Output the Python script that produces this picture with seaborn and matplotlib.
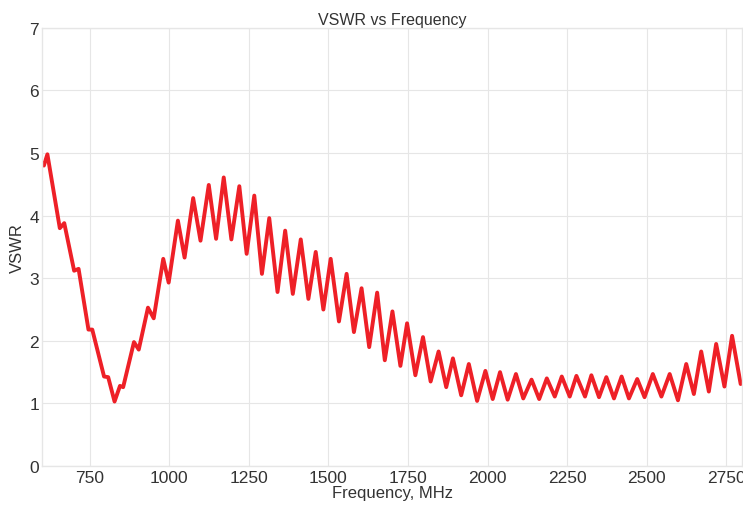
import seaborn as sns
import matplotlib.pyplot as plt
import pandas as pd

# values (peaks / troughs of the VSWR trace)
freq_mhz = [600, 606, 617, 656, 670, 701, 715, 746, 758, 795, 808, 828, 845, 855,
            889, 904, 933, 951, 981, 998, 1027, 1048, 1075, 1098, 1124, 1147, 1171,
            1195, 1220, 1243, 1267, 1291, 1314, 1340, 1364, 1388, 1413, 1437, 1460,
            1484, 1507, 1533, 1557, 1580, 1604, 1628, 1653, 1677, 1701, 1726, 1747,
            1773, 1797, 1821, 1846, 1870, 1891, 1917, 1941, 1967, 1993, 2016, 2039,
            2063, 2089, 2112, 2138, 2162, 2186, 2211, 2233, 2258, 2279, 2306, 2326,
            2350, 2373, 2397, 2421, 2444, 2470, 2493, 2519, 2546, 2572, 2598, 2624,
            2648, 2671, 2695, 2718, 2744, 2768, 2795]
vswr = [4.85, 4.80, 4.98, 3.80, 3.88, 3.12, 3.15, 2.18, 2.18, 1.43, 1.42, 1.03, 1.28, 1.26,
        1.98, 1.86, 2.53, 2.36, 3.31, 2.93, 3.92, 3.33, 4.28, 3.60, 4.49, 3.63, 4.61,
        3.62, 4.47, 3.39, 4.32, 3.07, 3.96, 2.78, 3.76, 2.75, 3.62, 2.67, 3.42,
        2.50, 3.31, 2.31, 3.07, 2.14, 2.84, 1.90, 2.77, 1.69, 2.47, 1.60, 2.28,
        1.45, 2.06, 1.35, 1.83, 1.26, 1.72, 1.13, 1.63, 1.04, 1.52, 1.07, 1.50,
        1.06, 1.47, 1.08, 1.38, 1.07, 1.40, 1.11, 1.43, 1.11, 1.44, 1.11, 1.45,
        1.10, 1.42, 1.08, 1.43, 1.08, 1.39, 1.10, 1.47, 1.11, 1.47, 1.05, 1.63,
        1.15, 1.83, 1.19, 1.95, 1.27, 2.08, 1.31]
x_ticks = [750, 1000, 1250, 1500, 1750, 2000, 2250, 2500, 2750]
y_ticks = [0, 1, 2, 3, 4, 5, 6, 7]

df = pd.DataFrame({'freq': freq_mhz, 'vswr': vswr})

sns.set_style('whitegrid', {'grid.color': '#e6e6e6', 'axes.edgecolor': '#e6e6e6'})
plt.rcParams['font.family'] = ['Liberation Sans', 'DejaVu Sans']

fig = plt.figure(figsize=(7.43, 5.06), dpi=100)
ax = fig.add_axes([0.0565, 0.077, 0.9425, 0.866])
sns.lineplot(data=df, x='freq', y='vswr', ax=ax, color='#ee2027', linewidth=2.8,
             solid_joinstyle='round', solid_capstyle='round')

ax.set_xlim(600, 2800)
ax.set_ylim(0, 7)
ax.set_xticks(x_ticks)
ax.set_yticks(y_ticks)
ax.tick_params(axis='both', labelsize=12.5, colors='#333333', length=0)
ax.tick_params(axis='x', pad=3)
ax.tick_params(axis='y', pad=2)
ax.set_xlabel('Frequency, MHz', fontsize=12, color='#333333', labelpad=0)
ax.set_ylabel('VSWR', fontsize=12, color='#333333', labelpad=3)
ax.set_title('VSWR vs Frequency', fontsize=11.5, color='#333333', pad=3)
for s in ax.spines.values():
    s.set_linewidth(1)

plt.savefig('out.png', dpi=100)
plt.close()
